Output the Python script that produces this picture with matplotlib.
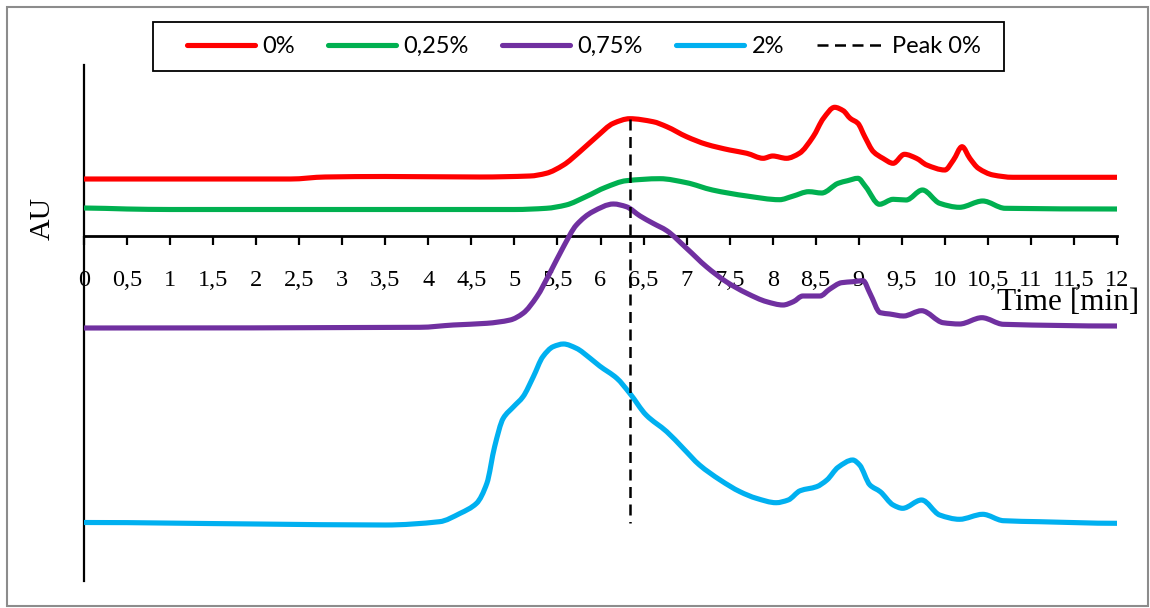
import numpy as np
import matplotlib
matplotlib.use("Agg")
import matplotlib.pyplot as plt
from matplotlib.patches import Rectangle, PathPatch
from matplotlib.path import Path
from matplotlib.lines import Line2D

# chromatograms, time in min and signal in AU (traces offset for display)
t_0 = [0, 1.0, 2.4, 2.8, 3.5, 4.6, 5.18, 5.37, 5.57, 5.76, 5.955, 6.15, 6.34, 6.61, 6.77,
       7.0, 7.23, 7.5, 7.7, 7.89, 8.0, 8.16, 8.31, 8.47, 8.59, 8.72, 8.82, 8.9, 8.99,
       9.07, 9.17, 9.28, 9.4, 9.53, 9.67, 9.79, 10.0, 10.1, 10.2, 10.29, 10.39, 10.56,
       10.79, 12]
au_0 = [0.565, 0.565, 0.565, 0.585, 0.59, 0.585, 0.595, 0.622, 0.705, 0.838, 0.988, 1.122,
        1.168, 1.138, 1.088, 0.988, 0.912, 0.855, 0.822, 0.772, 0.795, 0.772, 0.822, 0.988,
        1.172, 1.282, 1.248, 1.172, 1.122, 0.988, 0.838, 0.772, 0.722, 0.812, 0.772, 0.705,
        0.655, 0.755, 0.888, 0.772, 0.672, 0.605, 0.582, 0.582]

t_025 = [0, 0.5, 1, 3, 5.0, 5.37, 5.6, 5.83, 6.06, 6.3, 6.69, 7.0, 7.3, 7.7, 8.08, 8.23,
         8.42, 8.57, 8.76, 8.87, 8.99, 9.08, 9.24, 9.4, 9.55, 9.74, 9.94, 10.17, 10.44,
         10.7, 12]
au_025 = [0.275, 0.265, 0.26, 0.26, 0.26, 0.272, 0.305, 0.388, 0.482, 0.548, 0.568, 0.528,
          0.455, 0.395, 0.358, 0.392, 0.438, 0.425, 0.522, 0.548, 0.572, 0.488, 0.312,
          0.362, 0.355, 0.455, 0.322, 0.282, 0.345, 0.272, 0.265]

t_075 = [0, 3.9, 4.29, 4.68, 4.95, 5.1, 5.26, 5.41, 5.57, 5.72, 5.91, 6.15, 6.3, 6.46,
         6.61, 6.77, 7.0, 7.23, 7.46, 7.7, 7.93, 8.12, 8.24, 8.35, 8.55, 8.66, 8.8, 8.93,
         9.05, 9.13, 9.25, 9.36, 9.52, 9.73, 9.98, 10.17, 10.43, 10.68, 12]
au_075 = [-0.925, -0.918, -0.895, -0.878, -0.845, -0.778, -0.612, -0.378, -0.112, 0.105,
          0.238, 0.315, 0.288, 0.195, 0.122, 0.048, -0.128, -0.312, -0.462, -0.578,
          -0.662, -0.695, -0.662, -0.605, -0.605, -0.538, -0.472, -0.462, -0.452, -0.578,
          -0.772, -0.785, -0.805, -0.752, -0.872, -0.885, -0.822, -0.888, -0.905]

t_2 = [0, 2.0, 3.5, 4.13, 4.37, 4.56, 4.68, 4.77, 4.87, 4.99, 5.1, 5.22, 5.33, 5.45, 5.57,
       5.72, 5.88, 5.99, 6.19, 6.34, 6.53, 6.77, 6.96, 7.15, 7.39, 7.62, 7.81, 8.04, 8.18,
       8.32, 8.51, 8.63, 8.76, 8.93, 9.01, 9.13, 9.25, 9.4, 9.51, 9.73, 9.94, 10.17,
       10.44, 10.68, 11.1, 12]
au_2 = [-2.87, -2.885, -2.895, -2.862, -2.778, -2.678, -2.478, -2.112, -1.828, -1.712,
        -1.612, -1.412, -1.212, -1.112, -1.085, -1.128, -1.228, -1.305, -1.428, -1.578,
        -1.795, -1.962, -2.128, -2.295, -2.445, -2.562, -2.628, -2.672, -2.645, -2.552,
        -2.512, -2.445, -2.318, -2.245, -2.295, -2.495, -2.562, -2.695, -2.728, -2.645,
        -2.795, -2.838, -2.788, -2.852, -2.862, -2.878]

# retention time of the 0% peak and the span of the marker line
peak_t = 6.34
peak_span = [1.168, -2.878]

labels = ["0%", "0,25%", "0,75%", "2%"]
colors = ["#FF0000", "#00B050", "#7030A0", "#00B0F0"]
x_ticks = np.arange(0, 12.01, 0.5)
x_ticklabels = [("%g" % v).replace(".", ",") for v in x_ticks]


def smooth_path(x, y):
    # smoothed line: one cubic Bezier per segment through every point,
    # monotone slopes (harmonic mean of neighbouring secants) so flat runs stay flat
    x = np.asarray(x, float)
    y = np.asarray(y, float)
    d = np.diff(y) / np.diff(x)
    m = np.zeros_like(y)
    for i in range(1, len(x) - 1):
        if d[i - 1] * d[i] > 0:
            m[i] = 2.0 / (1.0 / d[i - 1] + 1.0 / d[i])
    verts = [(x[0], y[0])]
    codes = [Path.MOVETO]
    for i in range(len(x) - 1):
        h = (x[i + 1] - x[i]) / 3.0
        verts += [(x[i] + h, y[i] + m[i] * h),
                  (x[i + 1] - h, y[i + 1] - m[i + 1] * h),
                  (x[i + 1], y[i + 1])]
        codes += [Path.CURVE4] * 3
    return Path(verts, codes)


fig = plt.figure(figsize=(11.5, 6.08), dpi=100)
ax = fig.add_axes([84 / 1150, 1 - 581 / 608, 1033 / 1150, 516 / 608])

series = [(t_0, au_0), (t_025, au_025), (t_075, au_075), (t_2, au_2)]
handles = []
for (t, au), lab, c in zip(series, labels, colors):
    ax.add_patch(PathPatch(smooth_path(t, au), fill=False, edgecolor=c, lw=3.7,
                           capstyle="round", joinstyle="round", zorder=3))
    handles.append(Line2D([], [], color=c, lw=3.7, solid_capstyle="round", label=lab))

dash = (0, (4.4, 2.6))
ax.plot([peak_t, peak_t], peak_span, color="black", lw=1.8, linestyle=dash, zorder=4)
handles.append(Line2D([], [], color="black", lw=1.8, linestyle=dash, label="Peak 0%"))

ax.set_xlim(0, 12)
ax.set_ylim(-3.455, 1.705)

ax.spines["top"].set_visible(False)
ax.spines["right"].set_visible(False)
ax.spines["bottom"].set_position(("data", 0))
ax.spines["bottom"].set_linewidth(2.0)
ax.spines["left"].set_linewidth(1.6)
ax.set_yticks([])
ax.set_xticks(x_ticks)
ax.set_xticklabels(x_ticklabels, fontfamily="Liberation Serif", fontsize=17.5)
ax.tick_params(axis="x", direction="out", length=6.5, width=1.6, pad=18.5)

fig.text(1139 / 1150, 1 - 302 / 608, "Time [min]", ha="right", va="center",
         fontfamily="Liberation Serif", fontsize=22.5)
fig.text(43 / 1150, 1 - 218.5 / 608, "AU", rotation=90, ha="center", va="center",
         fontfamily="Liberation Serif", fontsize=21.5)

leg = fig.legend(handles=handles, loc="center", bbox_to_anchor=(584 / 1150, 1 - 46.5 / 608),
                 ncol=5, frameon=False, prop={"family": "Lato", "size": 17},
                 handlelength=2.9, handletextpad=0.3, columnspacing=1.4,
                 borderpad=0, borderaxespad=0)

# legend frame and grey chart frame
fig.patches.append(Rectangle((153 / 1150, 1 - 71 / 608), 851 / 1150, 49 / 608,
                             transform=fig.transFigure, fill=False,
                             edgecolor="black", lw=1.3))
fig.patches.append(Rectangle((7 / 1150, 1 - 606 / 608), 1141 / 1150, 599 / 608,
                             transform=fig.transFigure, fill=False,
                             edgecolor="#8C8C8C", lw=1.5))

fig.savefig("out.png", dpi=100)
